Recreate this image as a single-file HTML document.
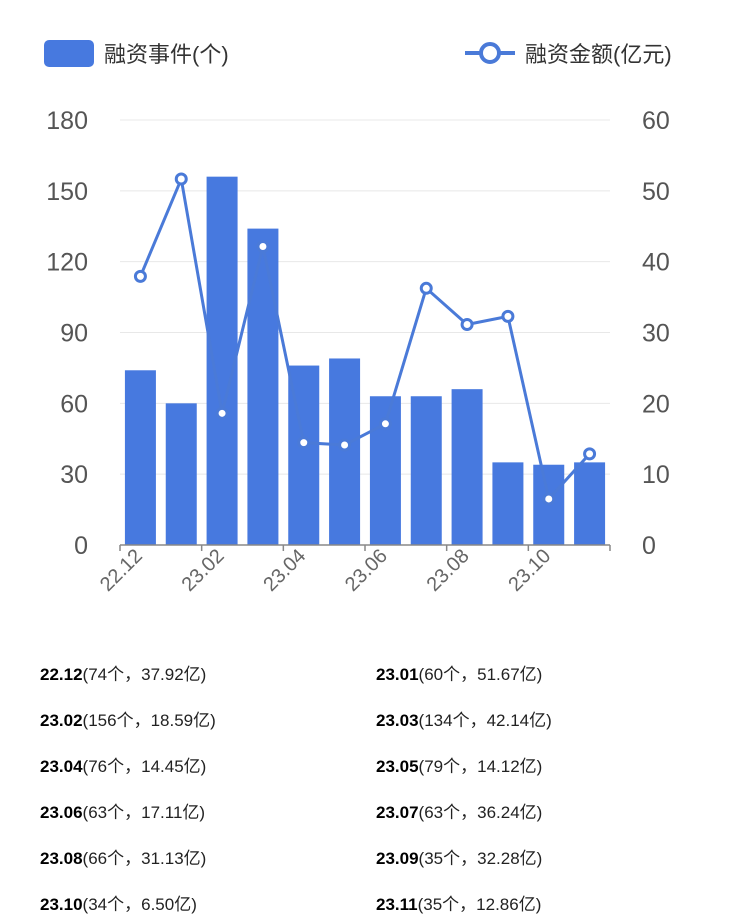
<!DOCTYPE html>
<html><head><meta charset="utf-8"><style>
body{margin:0;background:#fff;font-family:"Liberation Sans","Noto Sans CJK SC",sans-serif;}
.row{position:absolute;font-size:17px;color:#222;}
.row b{font-weight:bold;color:#000}
</style></head><body>
<div style="position:relative;width:750px;height:916px;overflow:hidden">
<svg id="c" width="750" height="640" style="position:absolute;left:0;top:0"></svg>
<div id="list"></div>
</div>
<script>
const categories=["22.12","23.01","23.02","23.03","23.04","23.05","23.06","23.07","23.08","23.09","23.10","23.11"];
const events=[74,60,156,134,76,79,63,63,66,35,34,35];
const amounts=[37.92,51.67,18.59,42.14,14.45,14.12,17.11,36.24,31.13,32.28,6.50,12.86];
const leftTicks=[0,30,60,90,120,150,180];
const rightTicks=[0,10,20,30,40,50,60];
const NS="http://www.w3.org/2000/svg";
const svg=document.getElementById('c');
const X0=120,X1=610,Y0=545,Y1=120,blue="#4779df",lblue="#4a7ad8";
const bw=(X1-X0)/categories.length;
const yL=v=>Y0-(v/180)*(Y0-Y1), yR=v=>Y0-(v/60)*(Y0-Y1), xc=i=>X0+bw*(i+0.5);
function mk(t,a,txt){const e=document.createElementNS(NS,t);for(const k in a)e.setAttribute(k,a[k]);if(txt!=null)e.textContent=txt;svg.appendChild(e);return e;}
// legend
let e=mk('rect',{x:44,y:40,width:50,height:27,rx:5,fill:blue});

e=mk('text',{x:104,y:62,'font-size':22,fill:'#333'},'融资事件(个)');

e=mk('line',{x1:465,y1:53,x2:515,y2:53,stroke:lblue,'stroke-width':4});

e=mk('circle',{cx:490,cy:53,r:9,fill:'#fff',stroke:lblue,'stroke-width':4});

e=mk('text',{x:525,y:62,'font-size':22,fill:'#333'},'融资金额(亿元)');

// grid & ticks
leftTicks.forEach((v,i)=>{
 if(v>0){const g=mk('line',{x1:X0,x2:X1,y1:yL(v),y2:yL(v),stroke:'#e8e8e8','stroke-width':1});
 }
 const t=mk('text',{x:88,y:yL(v)+9,'font-size':25,fill:'#555','text-anchor':'end'},v);
 
});
rightTicks.forEach(v=>{
 const t=mk('text',{x:642,y:yR(v)+9,'font-size':25,fill:'#555'},v);
 
});
// bars
events.forEach((v,i)=>{
 const r=mk('rect',{x:xc(i)-15.5,y:yL(v),width:31,height:Y0-yL(v),fill:blue});
 
});
// axis
e=mk('line',{x1:X0,x2:X1,y1:Y0,y2:Y0,stroke:'#888','stroke-width':1.5});

for(let i=0;i<=categories.length;i+=2){
 const t=mk('line',{x1:X0+bw*i,x2:X0+bw*i,y1:Y0,y2:Y0+6,stroke:'#888','stroke-width':1.5});
 
}
categories.forEach((c,i)=>{
 if(i%2)return;
 const x=xc(i)+3,y=Y0+12;
 const t=mk('text',{x:x,y:y,'font-size':20,fill:'#666','text-anchor':'end',transform:`rotate(-45 ${x} ${y})`},c);
 
});
// line
const pts=amounts.map((v,i)=>xc(i)+','+yR(v)).join(' ');
e=mk('polyline',{points:pts,fill:'none',stroke:lblue,'stroke-width':3});

amounts.forEach((v,i)=>{
 const m=mk('circle',{cx:xc(i),cy:yR(v),r:5,fill:'#fff',stroke:lblue,'stroke-width':3});
 
});
// list
const list=document.getElementById('list');
categories.forEach((c,i)=>{
 const d=document.createElement('div');d.className='row';
 
 
 d.style.left=(i%2?376:40)+'px';d.style.top=(660+Math.floor(i/2)*46)+'px';
 d.innerHTML='<b>'+c+'</b>('+events[i]+'个，'+amounts[i].toFixed(2)+'亿)';
 list.appendChild(d);
});
</script>
</body></html>
